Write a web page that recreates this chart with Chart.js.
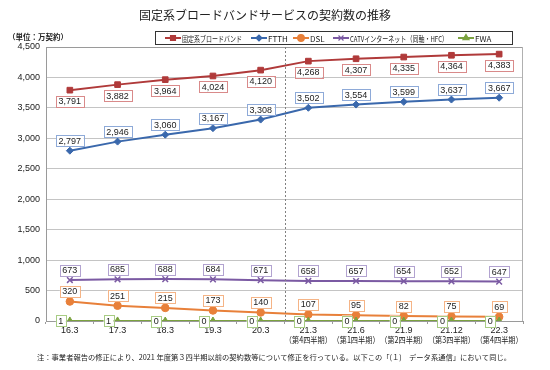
<!DOCTYPE html>
<html><head><meta charset="utf-8">
<script src="https://cdn.jsdelivr.net/npm/chart.js@4/dist/chart.umd.min.js"></script>
<style>html,body{margin:0;padding:0;background:#fff;}#wrap{width:550px;height:370px;position:relative;}</style>
</head><body><div id="wrap"><canvas id="c" width="550" height="370"></canvas></div>
<script>
const categories = [["16.3"],["17.3"],["18.3"],["19.3"],["20.3"],["21.3","（第4四半期）"],["21.6","（第1四半期）"],["21.9","（第2四半期）"],["21.12","（第3四半期）"],["22.3","（第4四半期）"]];
const seriesNames = ["固定系ブロードバンド","FTTH","DSL","CATVインターネット（同軸・HFC）","FWA"];
const broadband = [3791,3882,3964,4024,4120,4268,4307,4335,4364,4383];
const ftth = [2797,2946,3060,3167,3308,3502,3554,3599,3637,3667];
const dsl = [320,251,215,173,140,107,95,82,75,69];
const catv = [673,685,688,684,671,658,657,654,652,647];
const fwa = [1,1,0,0,0,0,0,0,0,0];
const yTicks = {min:0,max:4500,step:500};

const FONT = '"Liberation Sans", Arial, "Noto Sans CJK JP", sans-serif';
const JP = '"Noto Sans CJK JP", "Liberation Sans", sans-serif';
const colors = ['#B03A3A','#3A68AC','#E8803A','#7B5AA3','#7BA23F'];
const labelBorders = ['#D98A8A','#8EAAD8','#F5B486','#B2A3D0','#A8CC84'];
const styles = ['rect','rectRot','circle','crossRot','triangle'];
const radii = [4,3.5,3.8,4,4];
const labelPos = ['below','above','above','above','left'];
const allData = [broadband,ftth,dsl,catv,fwa];

const datasets = allData.map((d,i)=>({
  label: seriesNames[i], data: d, borderColor: colors[i], backgroundColor: colors[i],
  borderWidth: 2, pointStyle: styles[i], pointRadius: radii[i], pointBorderWidth: i===3?1.5:1,
  pointBackgroundColor: colors[i], pointBorderColor: colors[i], tension: 0, order: 4-i
}));

const decor = {
  id:'decor',
  afterDatasetsDraw(chart){
    const ctx = chart.ctx, a = chart.chartArea, xs = chart.scales.x;
    ctx.save();
    ctx.strokeStyle = '#9A9A9A'; ctx.lineWidth = 1;
    ctx.beginPath(); ctx.moveTo(a.left, a.top+0.5); ctx.lineTo(a.right, a.top+0.5); ctx.stroke();
    ctx.strokeStyle = '#B0B0B0';
    ctx.beginPath(); ctx.moveTo(a.right-0.5, a.top); ctx.lineTo(a.right-0.5, a.bottom); ctx.stroke();
    const sx = Math.round(xs.getPixelForValue(4.5))+0.5;
    ctx.strokeStyle = '#808080'; ctx.setLineDash([2,2]);
    ctx.beginPath(); ctx.moveTo(sx, a.top); ctx.lineTo(sx, a.bottom); ctx.stroke();
    ctx.setLineDash([]);
    ctx.font = '9px ' + FONT; ctx.textBaseline = 'middle'; ctx.textAlign = 'center';
    chart.data.datasets.forEach((ds,i)=>{
      const meta = chart.getDatasetMeta(i);
      meta.data.forEach((pt,j)=>{
        const txt = ds.data[j].toLocaleString('en-US');
        const w = ctx.measureText(txt).width + 5, h = 11;
        let cx = pt.x, cy = pt.y;
        if (labelPos[i]==='below') cy += 11;
        else if (labelPos[i]==='above') cy -= 10;
        else cx -= 9;
        ctx.fillStyle = '#fff';
        ctx.fillRect(cx-w/2, cy-h/2, w, h);
        ctx.strokeStyle = labelBorders[i]; ctx.lineWidth = 1;
        ctx.strokeRect(Math.round(cx-w/2)+0.5, Math.round(cy-h/2)+0.5, Math.round(w), h);
        ctx.fillStyle = '#222';
        ctx.fillText(txt, cx, cy+0.5);
      });
    });
    ctx.restore();
  },
  afterDraw(chart){
    const ctx = chart.ctx, xs = chart.scales.x;
    ctx.save();
    ctx.fillStyle = '#222'; ctx.textBaseline = 'middle'; ctx.textAlign = 'center';
    // quarter sub-labels under the x ticks
    ctx.font = '8.5px ' + JP;
    categories.forEach((c,j)=>{
      if (c.length > 1) ctx.fillText(c[1], xs.getPixelForTick(j), 340, 47);
    });
    ctx.font = '12px ' + JP;
    ctx.fillText('固定系ブロードバンドサービスの契約数の推移', 265, 15);
    ctx.textAlign = 'left'; ctx.font = 'bold 7.5px ' + JP;
    ctx.fillText('（単位：万契約）', 8, 37);
    ctx.strokeStyle = '#333'; ctx.lineWidth = 1;
    ctx.strokeRect(155.5, 31.5, 357, 13);
    const lx = [165, 251, 293, 333, 458];
    const lw = [60, 22, 16, 98, 17];
    ctx.font = '8px ' + JP;
    for (let i=0;i<5;i++){
      const x0 = lx[i], y0 = 38;
      ctx.strokeStyle = colors[i]; ctx.lineWidth = 2;
      ctx.beginPath(); ctx.moveTo(x0, y0); ctx.lineTo(x0+16, y0); ctx.stroke();
      ctx.fillStyle = colors[i]; ctx.strokeStyle = colors[i]; ctx.lineWidth = 1.2;
      Chart.helpers.drawPoint(ctx, {pointStyle: styles[i], radius: radii[i]-0.5, rotation:0, borderWidth:1}, x0+8, y0);
      if (styles[i]!=='crossRot') ctx.fill();
      ctx.fillStyle = '#222';
      ctx.fillText(seriesNames[i], x0+17, y0+0.5, lw[i]);
    }
    ctx.font = '7.3px ' + JP; ctx.fillStyle = '#222';
    ctx.fillText('注：事業者報告の修正により、2021 年度第３四半期以前の契約数等について修正を行っている。以下この「(１)　データ系通信」において同じ。', 37, 357, 474);
    ctx.restore();
  }
};

new Chart(document.getElementById('c'), {
  type: 'line',
  data: { labels: categories, datasets },
  plugins: [decor],
  options: {
    responsive: false, animation: false, devicePixelRatio: 1,
    layout: { padding: { top: 47, left: 0, right: 27, bottom: 19 } },
    plugins: { legend: { display: false }, tooltip: { enabled: false }, title: { display: false } },
    scales: {
      x: {
        offset: true,
        grid: { display: true, drawOnChartArea: false, drawTicks: true, tickLength: 3, offset: true, color: '#9A9A9A' },
        border: { display: true, color: '#9A9A9A' },
        ticks: { font: { size: 9, family: FONT }, color: '#222', maxRotation: 0, autoSkip: false, padding: 1,
          callback: (v,j) => categories[j][0] },
        afterFit(s){ s.height = 30; }
      },
      y: {
        min: yTicks.min, max: yTicks.max,
        ticks: { stepSize: yTicks.step, font: { size: 9, family: FONT }, color: '#222', padding: 6,
          callback: v => v.toLocaleString('en-US') },
        grid: { color: '#C4C4C4', drawTicks: false },
        border: { display: true, color: '#9A9A9A' },
        afterFit(s){ s.width = 46; }
      }
    }
  }
});
</script></body></html>
